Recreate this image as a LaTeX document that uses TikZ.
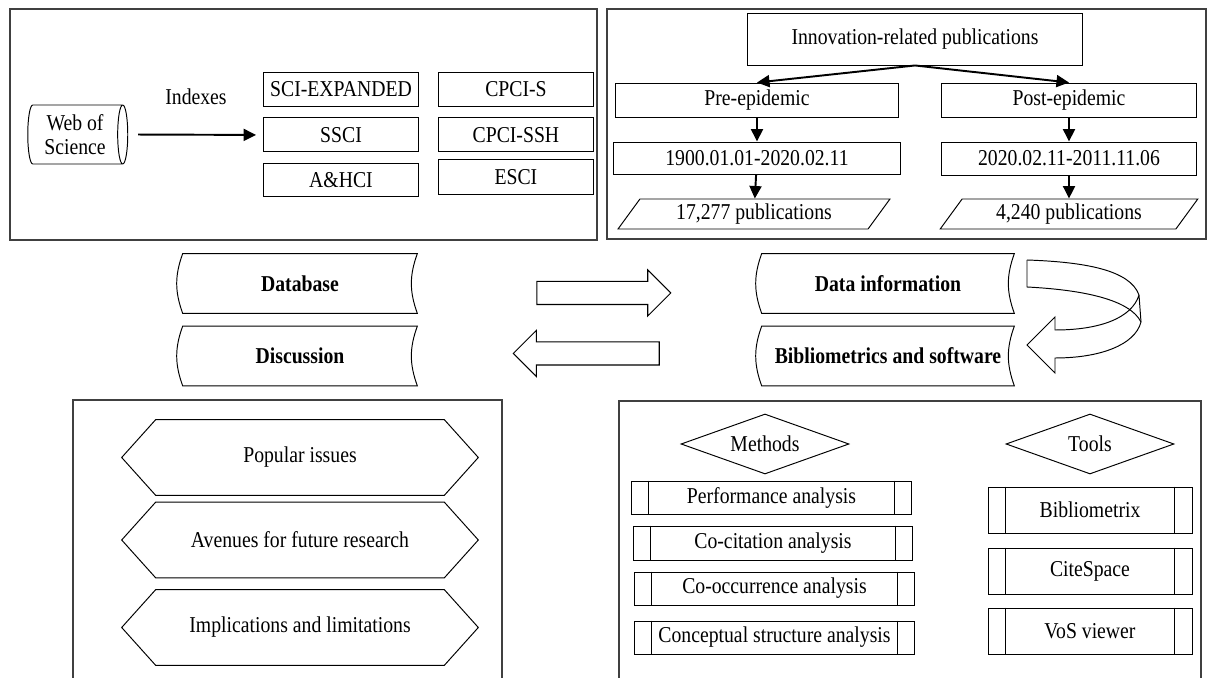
\documentclass[tikz,border=0pt]{standalone}
\usepackage{fontspec}
\setmainfont{Liberation Serif}[FakeStretch=0.87]
\usetikzlibrary{arrows.meta,positioning,shapes.geometric,shapes.arrows}
\tikzset{
  panelline/.style={draw=black!75,line width=0.6pt},
  idxbox/.style={
    draw,
    line width=0.55pt,
    minimum width=3.1cm,
    minimum height=0.68cm,
    inner sep=0pt
  },
  flowbox/.style={draw,line width=0.55pt,minimum height=0.68cm,inner sep=0pt},
  pubbox/.style={
    trapezium,
    trapezium left angle=54,
    trapezium right angle=126,
    trapezium stretches=true,
    draw,
    line width=0.55pt,
    minimum height=0.6cm,
    inner sep=0pt
  },
  storebox/.style={
    minimum height=1.18cm,
    inner sep=0pt,
    font=\fontsize{12.9}{13.7}\selectfont\bfseries
  },
  hexbox/.style={minimum width=7.12cm,minimum height=1.5cm,inner sep=0pt},
  choicebox/.style={
    diamond,
    draw,
    line width=0.55pt,
    aspect=2.8,
    minimum width=3.36cm,
    minimum height=1.2cm,
    inner sep=0pt
  },
  procbox/.style={draw,line width=0.55pt,inner sep=0pt},
  outline/.style={line width=0.55pt},
  flowarrow/.style={-{Triangle[length=2.5mm,width=2.4mm]},line width=1.1pt},
  blockarrow/.style={
    single arrow,
    draw,
    line width=0.6pt,
    single arrow head extend=0.23cm,
    single arrow tip angle=90,
    inner xsep=0pt,
    inner ysep=0.22cm
  }
}

\begin{document}
\begin{tikzpicture}[x=0.02cm,y=-0.02cm,font=\fontsize{12.9}{13.7}\selectfont]
    \useasboundingbox (0,0) rectangle (1215,678);
    % frames
    \draw[panelline] (10,9) rectangle (597,240);
    \draw[panelline] (607,9) rectangle (1206,239);
    \draw[panelline] (73,678) -- (73,400) -- (502,400) -- (502,678);
    \draw[panelline] (619,678) -- (619,401) -- (1201,401) -- (1201,678);

    % database panel
    \node[cylinder,draw,line width=0.55pt,shape aspect=0.25,minimum width=1.18cm,minimum height=2.0cm,inner sep=0pt,align=center] (wos) at (75,134.5) {Web of\\Science};
    \node (idxlabel) at (196,97) {Indexes};
    \node[idxbox] (sciexp) at (341,89) {SCI-EXPANDED};
    \node[idxbox,below=0.22cm of sciexp] (ssci) {SSCI};
    \node[idxbox,below=0.22cm of ssci,minimum height=0.66cm] (ahci) {A\&HCI};
    \node[idxbox,right=0.38cm of sciexp] (cpcis) {CPCI-S};
    \node[idxbox,below=0.22cm of cpcis] (cpcissh) {CPCI-SSH};
    \node[idxbox,below=0.14cm of cpcissh,minimum height=0.7cm] (esci) {ESCI};
    \draw[flowarrow,shorten <=0.2cm,shorten >=0.14cm] (wos.east) -- (ssci.west);

    % data panel
    \node[flowbox,minimum width=6.72cm,minimum height=1.04cm] (innov) at (915,39) {Innovation-related publications};
    \node[flowbox,minimum width=5.68cm] (pre) at (757,100) {Pre-epidemic};
    \node[flowbox,minimum width=5.12cm] (post) at (1069,100) {Post-epidemic};
    \node[flowbox,minimum width=5.76cm,minimum height=0.64cm] (predate) at (757,158) {1900.01.01-2020.02.11};
    \node[flowbox,minimum width=5.12cm,minimum height=0.66cm] (postdate) at (1069,158.5) {2020.02.11-2011.11.06};
    \node[pubbox,minimum width=5.44cm] (prepub) at (754,214) {17,277 publications};
    \node[pubbox,minimum width=5.16cm] (postpub) at (1069,214) {4,240 publications};
    \draw[flowarrow] (innov.south) -- (pre.north);
    \draw[flowarrow] (innov.south) -- (post.north);
    \draw[flowarrow] (pre) -- (predate);
    \draw[flowarrow] (post) -- (postdate);
    \draw[flowarrow] (predate) -- (prepub);
    \draw[flowarrow] (postdate) -- (postpub);

    % stages
    \node[storebox,minimum width=4.68cm] (database) at (300,283.5) {Database};
    \node[storebox,minimum width=4.68cm] (discussion) at (300,356) {Discussion};
    \node[storebox,minimum width=5.04cm] (datainfo) at (888,283.5) {Data information};
    \node[storebox,minimum width=5.04cm] (biblio) at (888,356) {Bibliometrics and software};
    \foreach \n in {database,discussion,datainfo,biblio}
      \draw[outline] (\n.north west) to[bend right=20] (\n.south west) -- (\n.south east) to[bend left=20] (\n.north east) -- cycle;
    \node[blockarrow,minimum height=2.68cm] (toinfo) at (598,293) {};
    \node[blockarrow,minimum height=2.92cm,shape border rotate=180] (todisc) at (592,353.5) {};
    \draw[outline] (1027,260) -- (1027,287) .. controls (1085,290) and (1130,300) .. (1141,322);
    \draw[outline] (1027,260) .. controls (1085,262) and (1130,270) .. (1139,295) -- (1141,322)
      .. controls (1135,345) and (1100,358) .. (1055,358) -- (1055,373) -- (1027,345) -- (1055,317) -- (1055,330)
      .. controls (1100,330) and (1132,318) .. (1139,295);

    % discussion panel
    \node[hexbox] (popular) at (300,457.5) {Popular issues};
    \node[hexbox] (avenues) at (300,540) {Avenues for future research};
    \node[hexbox] (implic) at (300,627.5) {Implications and limitations};
    \foreach \n in {popular,avenues,implic}
      \draw[outline] ([xshift=0.68cm]\n.north west) -- ([xshift=-0.68cm]\n.north east) -- (\n.east)
        -- ([xshift=-0.68cm]\n.south east) -- ([xshift=0.68cm]\n.south west) -- (\n.west) -- cycle;

    % methods and tools panel
    \node[choicebox] (methods) at (765,444) {Methods};
    \node[choicebox] (tools) at (1090,444) {Tools};
    \node[procbox,minimum width=5.62cm,minimum height=0.66cm] (perf) at (771.5,497.5) {Performance analysis};
    \node[procbox,minimum width=5.6cm,minimum height=0.68cm] (cocit) at (773,543) {Co-citation analysis};
    \node[procbox,minimum width=5.62cm,minimum height=0.66cm] (cooc) at (774.5,588.5) {Co-occurrence analysis};
    \node[procbox,minimum width=5.62cm,minimum height=0.66cm] (concept) at (774.5,637.5) {Conceptual structure analysis};
    \node[procbox,minimum width=4.08cm,minimum height=0.92cm] (bibx) at (1090,510) {Bibliometrix};
    \node[procbox,minimum width=4.08cm,minimum height=0.92cm] (cites) at (1090,571) {CiteSpace};
    \node[procbox,minimum width=4.08cm,minimum height=0.92cm] (vos) at (1090,631) {VoS viewer};
    \foreach \n in {perf,cocit,cooc,concept,bibx,cites,vos}
      \draw[outline] ([xshift=0.35cm]\n.north west) -- ([xshift=0.35cm]\n.south west)
        ([xshift=-0.35cm]\n.north east) -- ([xshift=-0.35cm]\n.south east);
  \end{tikzpicture}
\end{document}
